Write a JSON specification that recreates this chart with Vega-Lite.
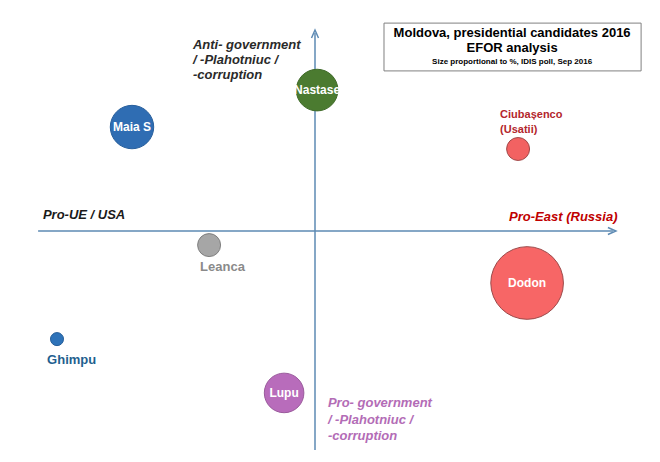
{
  "$schema": "https://vega.github.io/schema/vega-lite/v6.json",
  "width": 660,
  "height": 462,
  "autosize": {"type": "fit", "contains": "padding"},
  "padding": 0,
  "background": "white",
  "datasets": {
    "candidates": [
      {"name": "Maia S", "x": -61, "y": 45.0, "pct": 10.0},
      {"name": "Nastase", "x": 0.7, "y": 61.0, "pct": 9.2},
      {"name": "Ciubașenco", "x": 67.7, "y": 35.5, "pct": 2.8},
      {"name": "Leanca", "x": -35.3, "y": -6.1, "pct": 2.8},
      {"name": "Dodon", "x": 70.7, "y": -22.5, "pct": 28},
      {"name": "Ghimpu", "x": -86, "y": -46.8, "pct": 0.9},
      {"name": "Lupu", "x": -10.3, "y": -70.1, "pct": 8.3}
    ],
    "axes": [
      {"dir": "right", "x": -92.3, "y": 0, "x2": 99.3, "y2": 0},
      {"dir": "up", "x": 0, "y": -94.8, "x2": 0, "y2": 85.7}
    ],
    "box": [
      {"x": 23, "x2": 108.7, "y": 90, "y2": 69.3}
    ],
    "notes": [
      {"text": "Anti- government", "x": -40.7, "y": 80.5, "kind": "anti"},
      {"text": "/ -Plahotniuc /", "x": -40.7, "y": 74.0, "kind": "anti"},
      {"text": "-corruption", "x": -40.7, "y": 67.5, "kind": "anti"},
      {"text": "Pro- government", "x": 4.3, "y": -74.5, "kind": "pro"},
      {"text": "/ -Plahotniuc /", "x": 4.3, "y": -81.8, "kind": "pro"},
      {"text": "-corruption", "x": 4.3, "y": -88.7, "kind": "pro"},
      {"text": "Pro-UE / USA", "x": -90.7, "y": 6.9, "kind": "west"},
      {"text": "Pro-East (Russia)", "x": 64.7, "y": 6.1, "kind": "east"},
      {"text": "Ciubașenco", "x": 61.7, "y": 50.2, "kind": "ciu"},
      {"text": "(Usatii)", "x": 61.7, "y": 43.7, "kind": "ciu"},
      {"text": "Leanca", "x": -38.3, "y": -15.6, "kind": "leanca"},
      {"text": "Ghimpu", "x": -89.3, "y": -55.8, "kind": "ghimpu"},
      {"text": "Moldova, presidential candidates 2016", "x": 65.7, "y": 85.7, "kind": "title"},
      {"text": "EFOR analysis", "x": 65.7, "y": 79.2, "kind": "title"},
      {"text": "Size proportional to %, IDIS poll, Sep 2016", "x": 65.7, "y": 73.2, "kind": "sub"}
    ]
  },
  "encoding": {
    "x": {"field": "x", "type": "quantitative", "scale": {"domain": [-105, 115], "nice": false, "zero": false}, "axis": null},
    "y": {"field": "y", "type": "quantitative", "scale": {"domain": [-100, 100], "nice": false, "zero": false}, "axis": null}
  },
  "layer": [
    {
      "data": {"name": "box"},
      "mark": {"type": "rect", "fill": "white", "stroke": "#808080", "strokeWidth": 1},
      "encoding": {"x2": {"field": "x2"}, "y2": {"field": "y2"}}
    },
    {
      "data": {"name": "axes"},
      "mark": {"type": "rule", "color": "#5d8ab3", "strokeWidth": 1.5},
      "encoding": {"x2": {"field": "x2"}, "y2": {"field": "y2"}}
    },
    {
      "data": {"name": "axes"},
      "mark": {"type": "point", "filled": false, "stroke": "#5d8ab3", "strokeWidth": 1.5, "size": 100, "opacity": 1},
      "encoding": {
        "x": {"field": "x2", "type": "quantitative"},
        "y": {"field": "y2", "type": "quantitative"},
        "shape": {
          "field": "dir", "type": "nominal", "legend": null,
          "scale": {"domain": ["right", "up"], "range": ["M -1 -0.7 L 0.6 0 L -1 0.7", "M -0.7 1 L 0 -0.6 L 0.7 1"]}
        }
      }
    },
    {
      "data": {"name": "candidates"},
      "mark": {"type": "point", "filled": true, "opacity": 1, "strokeWidth": 1, "strokeOpacity": 1},
      "encoding": {
        "size": {"field": "pct", "type": "quantitative", "legend": null, "scale": {"domain": [0, 28], "range": [0, 5280], "zero": true}},
        "color": {
          "field": "name", "type": "nominal", "legend": null,
          "scale": {
            "domain": ["Maia S", "Nastase", "Ciubașenco", "Leanca", "Dodon", "Ghimpu", "Lupu"],
            "range": ["#2f6db3", "#4b7b30", "#f26262", "#a6a6a6", "#f76666", "#2e73b9", "#b86cbb"]
          }
        },
        "stroke": {
          "field": "name", "type": "nominal", "legend": null,
          "scale": {
            "domain": ["Maia S", "Nastase", "Ciubașenco", "Leanca", "Dodon", "Ghimpu", "Lupu"],
            "range": ["#285f9c", "#3f6a28", "#a04a4a", "#7f7f7f", "#9c4a4a", "#275f99", "#9a5a9c"]
          }
        }
      }
    },
    {
      "data": {"name": "candidates"},
      "transform": [{"filter": {"field": "name", "oneOf": ["Maia S", "Nastase", "Dodon", "Lupu"]}}],
      "mark": {"type": "text", "font": "Liberation Sans", "fontWeight": "bold", "fontSize": 12, "color": "white", "align": "center", "baseline": "middle"},
      "encoding": {"text": {"field": "name"}}
    },
    {
      "data": {"name": "notes"},
      "transform": [{"filter": {"field": "kind", "oneOf": ["anti", "pro", "west", "east"]}}],
      "mark": {"type": "text", "font": "Liberation Sans", "fontWeight": "bold", "fontStyle": "italic", "fontSize": 13, "align": "left", "baseline": "middle"},
      "encoding": {
        "text": {"field": "text"},
        "color": {
          "field": "kind", "type": "nominal", "legend": null,
          "scale": {"domain": ["anti", "pro", "west", "east"], "range": ["#2a2a2a", "#b36cb6", "#1a1a1a", "#c00000"]}
        }
      }
    },
    {
      "data": {"name": "notes"},
      "transform": [{"filter": {"field": "kind", "equal": "ciu"}}],
      "mark": {"type": "text", "font": "Liberation Sans", "fontWeight": "bold", "fontSize": 11, "align": "left", "baseline": "middle", "color": "#b3262c"},
      "encoding": {"text": {"field": "text"}}
    },
    {
      "data": {"name": "notes"},
      "transform": [{"filter": {"field": "kind", "oneOf": ["leanca", "ghimpu"]}}],
      "mark": {"type": "text", "font": "Liberation Sans", "fontWeight": "bold", "fontSize": 13, "align": "left", "baseline": "middle"},
      "encoding": {
        "text": {"field": "text"},
        "color": {
          "field": "kind", "type": "nominal", "legend": null,
          "scale": {"domain": ["leanca", "ghimpu"], "range": ["#8a8a8a", "#1f5f8f"]}
        }
      }
    },
    {
      "data": {"name": "notes"},
      "transform": [{"filter": {"field": "kind", "equal": "title"}}],
      "mark": {"type": "text", "font": "Liberation Sans", "fontWeight": "bold", "fontSize": 13, "align": "center", "baseline": "middle", "color": "black"},
      "encoding": {"text": {"field": "text"}}
    },
    {
      "data": {"name": "notes"},
      "transform": [{"filter": {"field": "kind", "equal": "sub"}}],
      "mark": {"type": "text", "font": "Liberation Sans", "fontWeight": "bold", "fontSize": 8, "align": "center", "baseline": "middle", "color": "black"},
      "encoding": {"text": {"field": "text"}}
    }
  ],
  "resolve": {"scale": {"color": "independent", "stroke": "independent", "shape": "independent", "size": "independent"}},
  "config": {"view": {"stroke": null}}
}
